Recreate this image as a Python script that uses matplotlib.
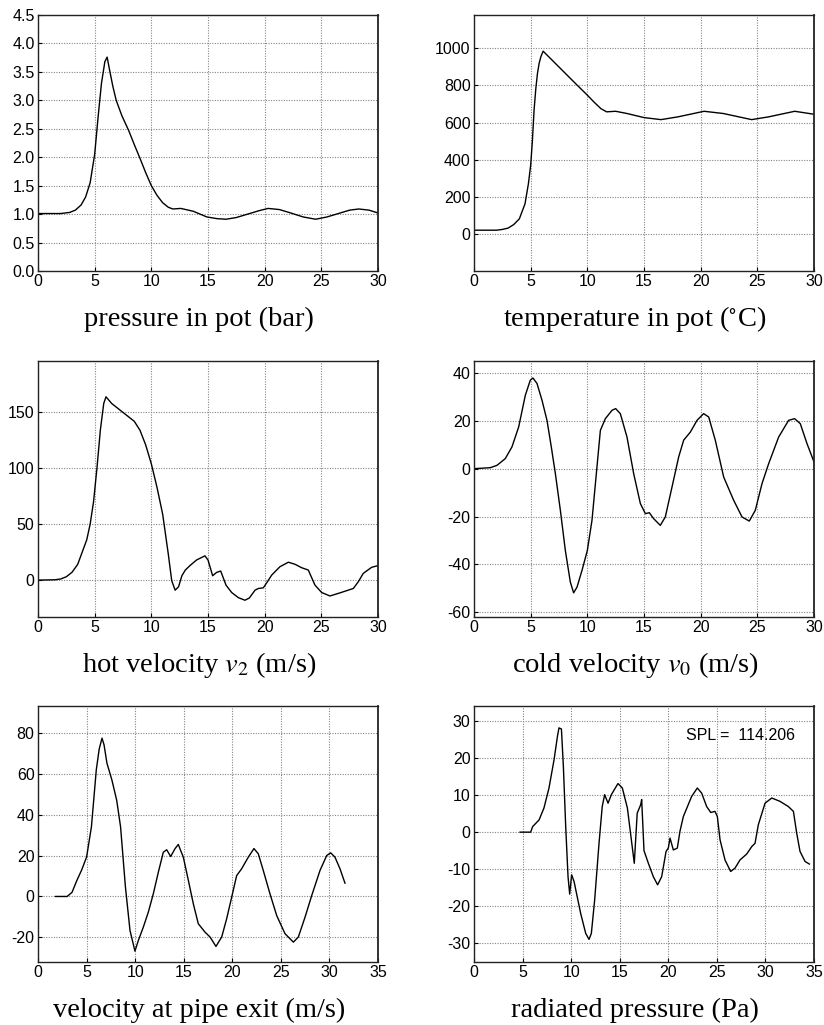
import matplotlib
matplotlib.use("Agg")
import matplotlib.pyplot as plt

plt.rcParams['font.family'] = ['Liberation Sans', 'DejaVu Sans']
plt.rcParams['mathtext.fontset'] = 'stix'
plt.rcParams['axes.unicode_minus'] = False

# pressure in pot (bar)
p_t = [0, 2, 2.8, 3.3, 3.8, 4.2, 4.6, 5.0, 5.3, 5.6, 5.9, 6.1, 6.3, 6.6, 6.9, 7.4, 8.0, 8.5,
       9.0, 9.5, 10.0, 10.5, 11.0, 11.5, 11.9, 12.6, 13.7, 14.9, 15.8, 16.6, 17.5, 18.5, 19.5,
       20.3, 21.3, 22.3, 23.4, 24.5, 25.5, 26.5, 27.5, 28.3, 29.2, 30]
p_val = [1.01, 1.01, 1.03, 1.07, 1.16, 1.3, 1.55, 2.05, 2.7, 3.3, 3.68, 3.76, 3.55, 3.25, 3.0,
         2.73, 2.47, 2.22, 1.98, 1.73, 1.5, 1.33, 1.2, 1.12, 1.09, 1.1, 1.05, 0.95, 0.92, 0.91,
         0.94, 1.0, 1.06, 1.1, 1.08, 1.02, 0.95, 0.91, 0.95, 1.01, 1.07, 1.09, 1.07, 1.02]

# temperature in pot (C)
T_t = [0, 2, 2.5, 3, 3.5, 4, 4.5, 4.8, 5.0, 5.15, 5.3, 5.45, 5.6, 5.75, 5.9, 6.1, 7, 8, 9, 10,
       10.6, 11.2, 11.7, 12.5, 13.5, 15, 16.5, 18, 20.3, 22, 24.5, 26, 28.3, 30]
T_val = [20, 20, 24, 31, 50, 81, 162, 270, 370, 500, 667, 780, 865, 920, 955, 985, 930, 869,
         808, 748, 710, 675, 658, 661, 649, 627, 616, 631, 661, 649, 616, 631, 661, 645]

# hot velocity v2 (m/s)
v2_t = [0, 1.5, 2, 2.5, 3, 3.5, 4, 4.3, 4.6, 4.9, 5.2, 5.5, 5.8, 6.0, 6.5, 7.0, 7.5, 8.0, 8.5,
        9.0, 9.5, 10.0, 10.5, 11.0, 11.5, 11.8, 12.1, 12.4, 12.7, 13.0, 13.41, 13.99, 14.73,
        15.0, 15.41, 15.76, 16.12, 16.59, 17.09, 17.68, 18.26, 18.65, 19.15, 19.44, 19.88,
        20.24, 20.62, 21.35, 22.09, 22.67, 23.26, 23.85, 24.44, 25.03, 25.76, 26.65, 27.82,
        28.26, 28.7, 29.43, 30.0]
v2_val = [0, 0.3, 1, 3, 7, 14, 27.8, 36, 50, 70, 100, 134, 158, 164, 158, 154, 150, 146, 142,
          134, 121, 104, 83, 59, 23, -0.6, -9, -6, 4, 9, 13, 18, 21.7, 18, 3.9, 6.9, 8.1, -4.5,
          -11.1, -15.7, -18, -16, -9, -7.5, -6.9, -1.5, 4.5, 12, 16, 14.2, 11.1, 9, -4.5, -11.1,
          -14.2, -11.4, -7.5, -1.5, 6, 11.4, 13]

# cold velocity v0 (m/s)
v0_t = [0, 1.44, 2.03, 2.76, 3.35, 3.94, 4.53, 4.97, 5.2, 5.56, 6.0, 6.44, 6.82, 7.18, 7.62,
        8.06, 8.5, 8.79, 9.09, 9.53, 10.0, 10.41, 10.85, 11.15, 11.59, 12.18, 12.5, 12.91, 13.5,
        14.09, 14.68, 15.12, 15.47, 15.85, 16.44, 16.88, 17.47, 18.06, 18.5, 19.09, 19.68,
        20.26, 20.71, 21.29, 22.03, 22.91, 23.65, 24.29, 24.82, 25.41, 26.0, 26.88, 27.76,
        28.29, 28.79, 29.38, 30.0]
v0_val = [0, 0.4, 1.4, 4.2, 9.1, 17.4, 30.7, 37, 37.9, 35.6, 28.6, 20.2, 9.1, -2.1, -17.4,
          -34.2, -47.4, -51.9, -49.5, -42.5, -34.2, -21.6, 0.7, 16, 20.9, 24.4, 25.1, 23, 13.2,
          -2.1, -14.6, -18.8, -18.4, -20.9, -23.7, -20.2, -7.7, 4.9, 11.9, 15.3, 20.2, 23, 21.6,
          11.9, -3.5, -13.2, -20.2, -21.9, -17.4, -6.3, 2.1, 13.2, 20.2, 20.9, 18.8, 10.5, 2.8]

# velocity at pipe exit (m/s)
ve_t = [1.8, 3.0, 3.5, 4.0, 4.5, 5.0, 5.5, 6.0, 6.3, 6.59, 6.8, 7.1, 7.6, 8.1, 8.5, 9.0, 9.47,
        9.98, 10.33, 10.84, 11.36, 11.87, 12.39, 12.9, 13.25, 13.66, 14.1, 14.44, 14.96, 15.48,
        15.99, 16.5, 17.19, 17.71, 18.32, 18.91, 19.42, 19.94, 20.45, 20.96, 21.65, 22.23,
        22.68, 23.19, 23.88, 24.57, 25.43, 26.29, 26.8, 27.49, 28.18, 29.03, 29.72, 30.13,
        30.57, 31.09, 31.6]
ve_val = [0, 0, 2, 7.8, 13, 19.2, 34, 61.8, 72, 77.3, 74, 65, 57, 47, 34, 4.6, -16.6, -26.7,
          -21.5, -15, -7.6, 1.3, 11.9, 21.6, 22.8, 19.5, 23.3, 25.4, 19.2, 7.8, -3.6, -13.3,
          -17.4, -19.8, -24.4, -19.8, -10.9, -0.3, 10.2, 13.5, 19.2, 23.4, 20.8, 12.7, 1.3,
          -9.3, -18.2, -22.3, -19.8, -10.1, 0.5, 12.7, 20, 21.3, 19.2, 13.5, 6.5]

# radiated pressure (Pa)
pr_t = [4.74, 5.83, 6.04, 6.7, 7.2, 7.72, 8.24, 8.6, 8.75, 9.0, 9.2, 9.44, 9.68, 9.85, 10.05,
        10.3, 10.98, 11.5, 11.84, 12.08, 12.42, 12.87, 13.2, 13.45, 13.8, 14.14, 14.82, 15.27,
        15.79, 16.2, 16.5, 16.8, 17.16, 17.26, 17.5, 17.95, 18.46, 18.9, 19.32, 19.77, 20.0,
        20.18, 20.52, 20.93, 21.2, 21.55, 22.4, 22.99, 23.44, 23.95, 24.37, 24.81, 25.05,
        25.33, 25.84, 26.42, 26.87, 27.38, 28.07, 28.59, 28.93, 29.27, 29.96, 30.65, 31.5,
        32.36, 32.88, 33.22, 33.56, 34.08, 34.52]
pr_val = [0, 0, 1.5, 3.3, 6.5, 11.9, 19.5, 26, 28.1, 27.8, 17.7, 1.5, -12, -16.7, -11.5,
          -13.3, -21.9, -27.3, -28.9, -27.3, -18.3, -3, 6.9, 10.1, 7.8, 10.1, 13.1, 11.9, 6.5,
          -2.1, -8.4, 5.1, 7.4, 8.8, -5.0, -8.4, -12, -14.2, -12, -5.2, -4.3, -1.6, -4.8, -4.3,
          0.2, 4.2, 9.6, 11.9, 10.5, 6.9, 5.3, 5.6, 4.2, -2.1, -7.5, -10.6, -9.7, -7.5, -5.9,
          -3.9, -3, 2, 7.8, 9.2, 8.3, 6.9, 5.6, -0.3, -5.2, -7.9, -8.6]
spl_text = "SPL =  114.206"

panels = [
    (p_t, p_val, "pressure in pot (bar)", (0, 30), (0, 4.5),
     [0, 0.5, 1, 1.5, 2, 2.5, 3, 3.5, 4, 4.5], ["0.0", "0.5", "1.0", "1.5", "2.0", "2.5", "3.0", "3.5", "4.0", "4.5"]),
    (T_t, T_val, "temperature in pot ($^{\\circ}$C)", (0, 30), (-200, 1180),
     [0, 200, 400, 600, 800, 1000], None),
    (v2_t, v2_val, "hot velocity $v_2$ (m/s)", (0, 30), (-33, 196),
     [0, 50, 100, 150], None),
    (v0_t, v0_val, "cold velocity $v_0$ (m/s)", (0, 30), (-62, 45),
     [-60, -40, -20, 0, 20, 40], None),
    (ve_t, ve_val, "velocity at pipe exit (m/s)", (0, 35), (-32, 93),
     [-20, 0, 20, 40, 60, 80], None),
    (pr_t, pr_val, "radiated pressure (Pa)", (0, 35), (-35, 34),
     [-30, -20, -10, 0, 10, 20, 30], None),
]

fig = plt.figure(figsize=(8.24, 10.25), dpi=100)
W, H = 824.0, 1025.0
lefts = [38, 474]
tops = [15, 361, 706]
aw, ah = 340, 256

for i, (t, v, label, xl, yl, yt, ytl) in enumerate(panels):
    row, col = divmod(i, 2)
    l = lefts[col]
    top = tops[row]
    ax = fig.add_axes([l / W, 1 - (top + ah) / H, aw / W, ah / H])
    ax.plot(t, v, color='black', lw=1.0)
    ax.set_xlim(*xl)
    ax.set_ylim(*yl)
    ax.set_xticks(range(xl[0], xl[1] + 1, 5))
    ax.set_yticks(yt)
    if ytl:
        ax.set_yticklabels(ytl)
    ax.grid(True, linestyle=(0, (1, 1.3)), color='#858585', lw=0.8)
    ax.tick_params(direction='in', length=3, labelsize=11.5, pad=2.5, width=0.8)
    for s in ax.spines.values():
        s.set_linewidth(1.0)
        s.set_color('#222222')
    ax.spines['right'].set_linewidth(1.3)
    fig.text((l + aw / 2 - 9) / W, 1 - (top + ah + 48) / H, label, ha='center', va='center',
             fontsize=20.5, family=['Liberation Serif', 'DejaVu Serif'])
    if i == 5:
        ax.text(21.8, 26, spl_text, fontsize=11.5, va='center', ha='left')

fig.savefig("out.png", dpi=100)
